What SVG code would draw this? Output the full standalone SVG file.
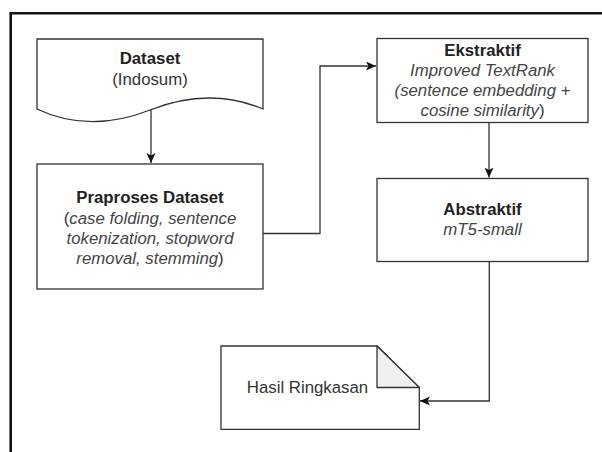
<svg xmlns="http://www.w3.org/2000/svg" width="602" height="452" viewBox="0 0 602 452">
<style>
.shape{fill:#fff;stroke:#333;stroke-width:1.3}
.conn{fill:none;stroke:#333;stroke-width:1.3}
text{font-family:"Liberation Sans",Arial,sans-serif;font-size:16.8px;fill:#333;text-anchor:middle}
.b{font-weight:bold;fill:#222}
.i{font-style:italic;fill:#444}
.r{font-style:normal}
</style>
<defs>
<marker id="arr" markerUnits="userSpaceOnUse" markerWidth="12" markerHeight="10" refX="10" refY="4.5" orient="auto">
<path d="M0,0 L10,4.5 L0,9 L2.5,4.5 Z" fill="#111"/>
</marker>
</defs>
<rect width="602" height="452" fill="#fff"/>
<g id="frame">
<path d="M10.7,452 V13.3 H602" fill="none" stroke="#111" stroke-width="2.6"/>
</g>
<g id="connectors">
<path class="conn" d="M151,110 V163" marker-end="url(#arr)"/>
<path class="conn" d="M263,233.5 H320 V66 H376" marker-end="url(#arr)"/>
<path class="conn" d="M489,122 V177.5" marker-end="url(#arr)"/>
<path class="conn" d="M489.3,262 V401 H420" marker-end="url(#arr)"/>
</g>
<g id="dataset">
<path class="shape" d="M37,39 H263 V109 C225,93 188,95 150,110 C112,125 75,127 37,109 Z"/>
<text x="150" y="63.5" class="b">Dataset</text>
<text x="150" y="84.5">(Indosum)</text>
</g>
<g id="praproses">
<rect class="shape" x="37" y="164" width="226" height="125"/>
<text x="150" y="203.3" class="b">Praproses Dataset</text>
<text x="150" y="223.5">(<tspan class="i">case folding, sentence</tspan></text>
<text x="150" y="243.7" class="i">tokenization, stopword</text>
<text x="150" y="263.9"><tspan class="i">removal, stemming</tspan>)</text>
</g>
<g id="ekstraktif">
<rect class="shape" x="377" y="38.5" width="211" height="84"/>
<text x="482.5" y="55.5" class="b">Ekstraktif</text>
<text x="482.5" y="75.5" class="i">Improved TextRank</text>
<text x="482.5" y="95.5" class="i">(sentence embedding +</text>
<text x="482.5" y="115.5"><tspan class="i">cosine similarity</tspan>)</text>
</g>
<g id="abstraktif">
<rect class="shape" x="377" y="178.5" width="211" height="83"/>
<text x="482.5" y="215" class="b">Abstraktif</text>
<text x="482.5" y="235" class="i">mT5-small</text>
</g>
<g id="hasil">
<path class="shape" d="M221,346 H377 L419.3,387.5 V429.3 H221 Z"/>
<path d="M377,346 V387.5 H419.3 Z" fill="#efefef" stroke="#333" stroke-width="1.3" stroke-linejoin="round"/>
<text x="307.5" y="393">Hasil Ringkasan</text>
</g>
</svg>
